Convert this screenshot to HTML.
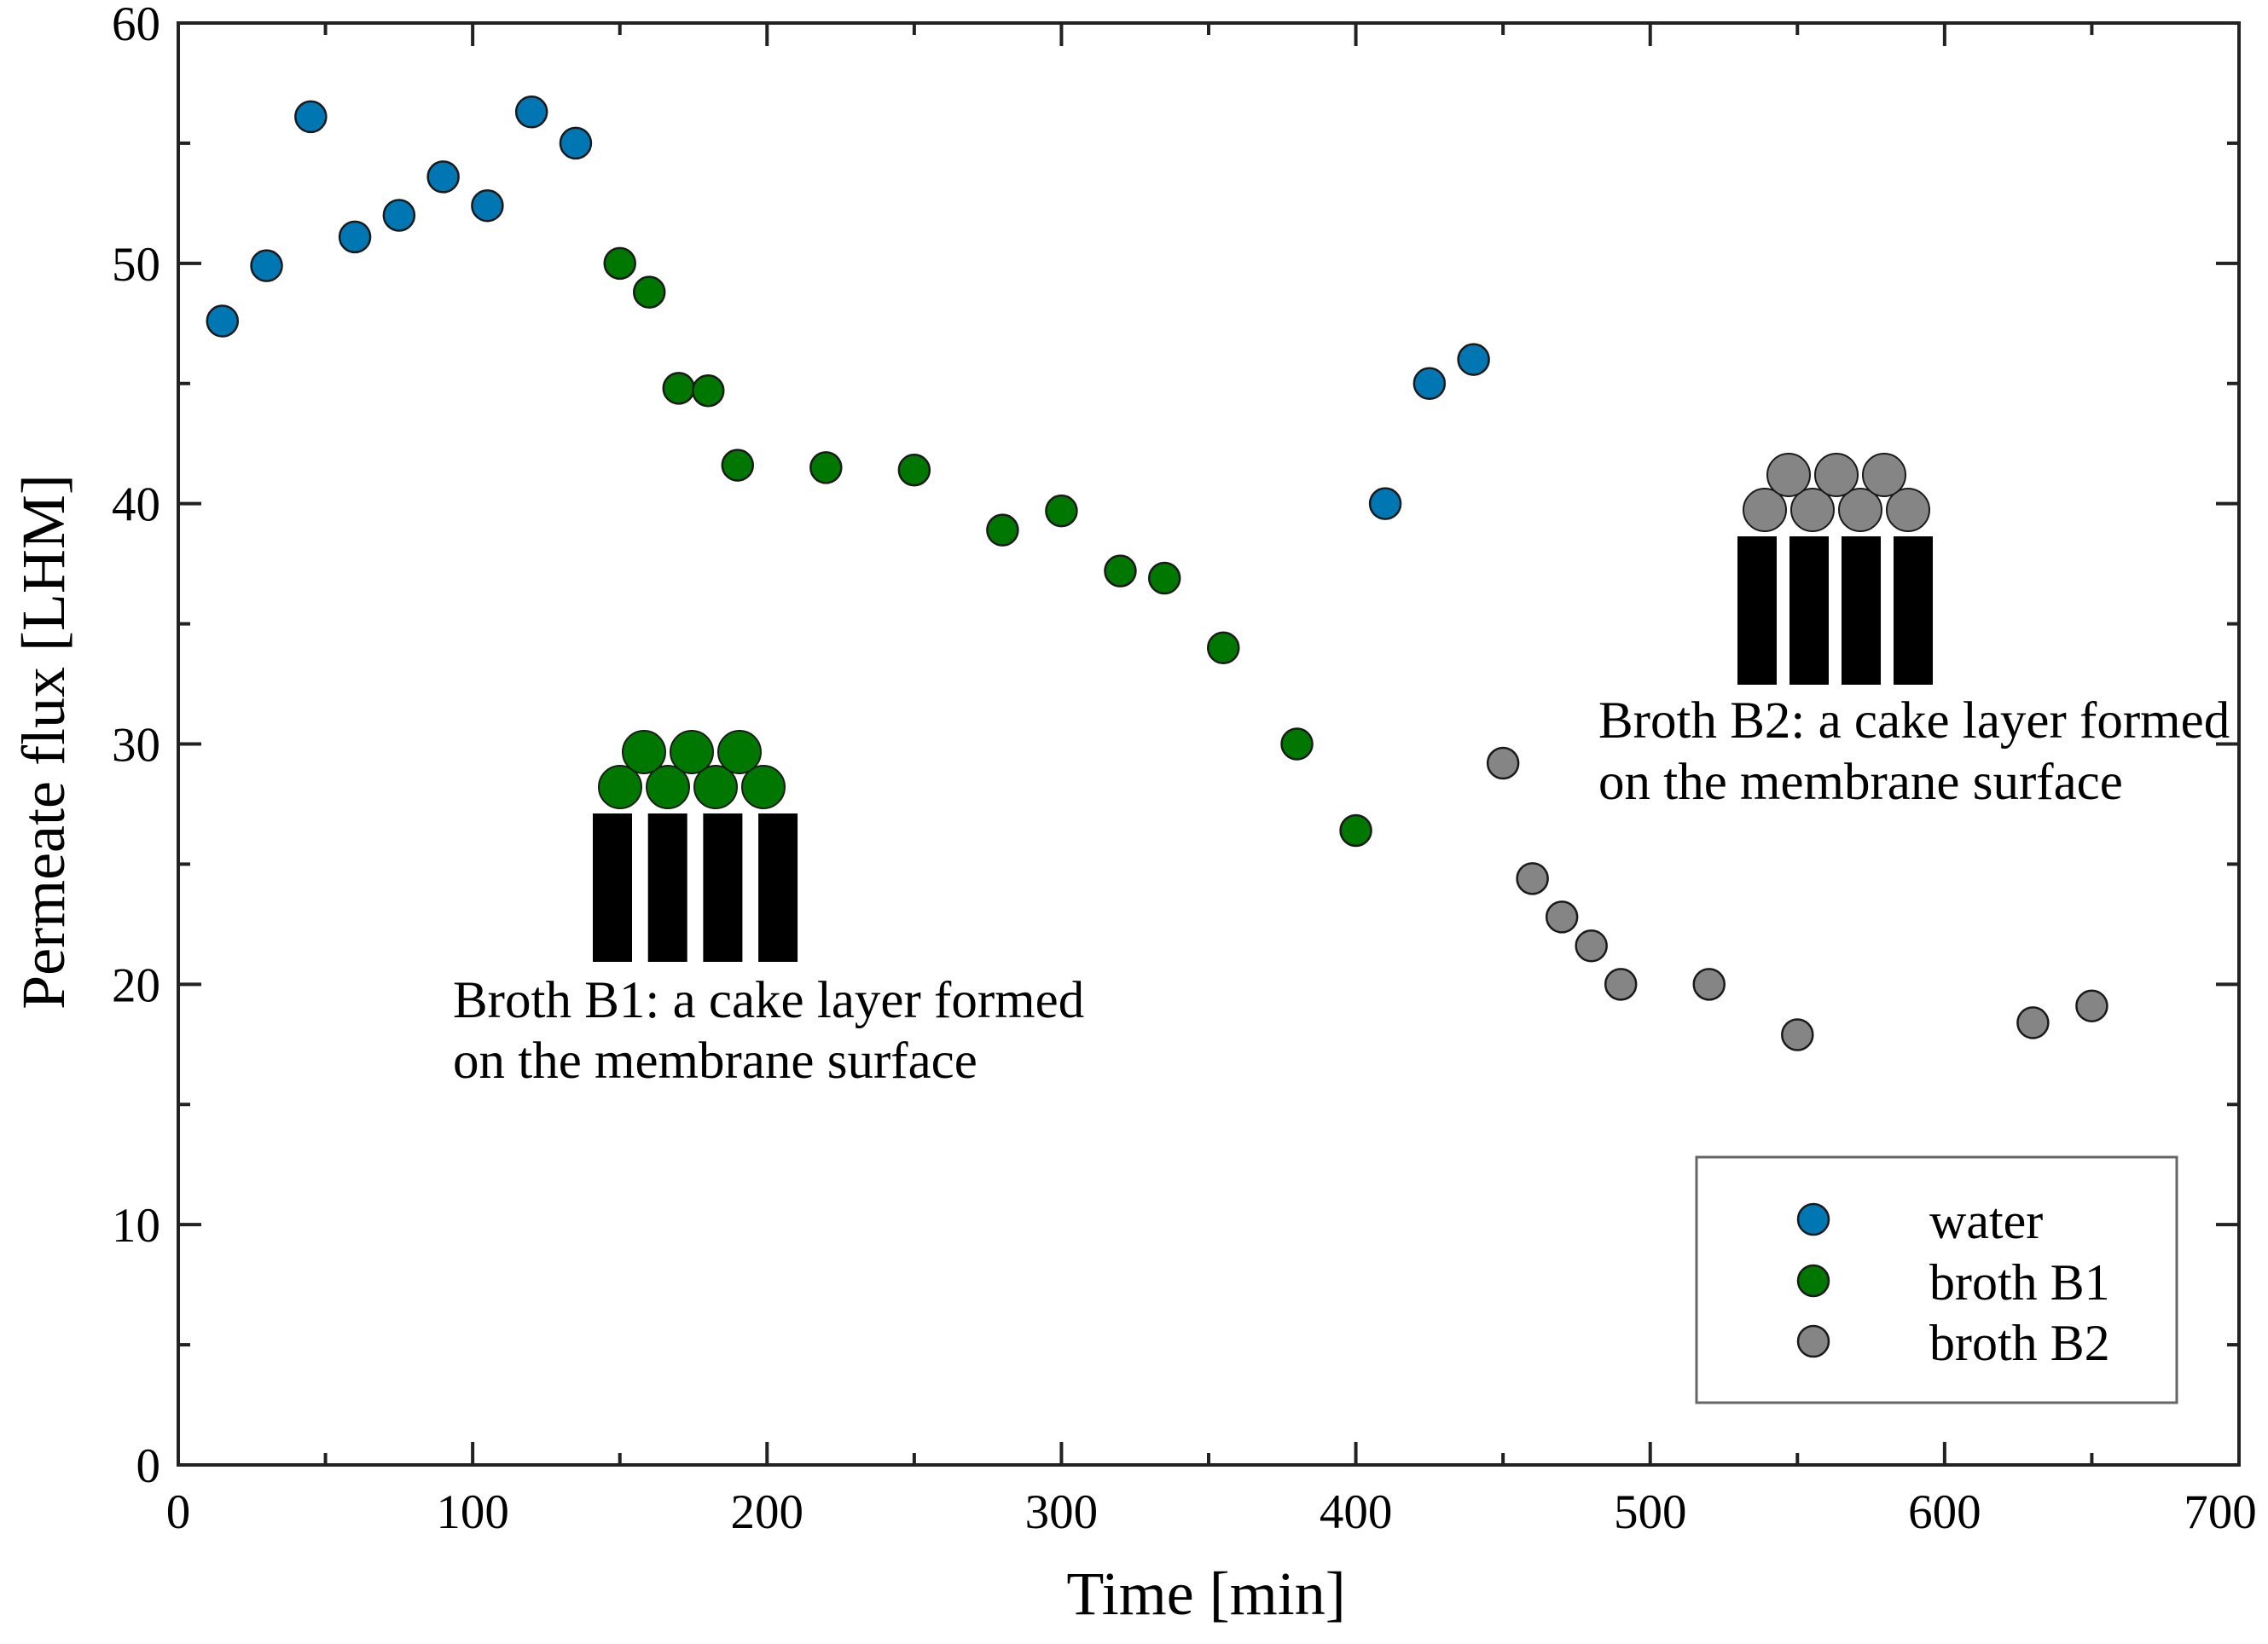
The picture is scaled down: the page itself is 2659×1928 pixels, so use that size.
<!DOCTYPE html>
<html><head><meta charset="utf-8"><style>
html,body{margin:0;padding:0;background:#fff}
svg text{font-family:"Liberation Serif",serif;fill:#000}
</style></head><body>
<svg id="chart" width="2659" height="1923" viewBox="0 0 2659 1923" xmlns="http://www.w3.org/2000/svg">
<rect width="2659" height="1923" fill="#fff"/>
<g id="marks"></g>
<g id="ill1"></g>
<g id="ill2"></g>
<text x="531" y="1193" font-size="61">Broth B1: a cake layer formed</text>
<text x="531" y="1264" font-size="61">on the membrane surface</text>
<text x="1874" y="865" font-size="61">Broth B2: a cake layer formed</text>
<text x="1874" y="937" font-size="61">on the membrane surface</text>
<rect x="1989" y="1357" width="563" height="288" fill="#fff" stroke="#666" stroke-width="3"/>
<g id="legend"></g>
<text x="1414" y="1893" font-size="72" text-anchor="middle">Time [min]</text>
<text transform="translate(75,870) rotate(-90)" font-size="72" text-anchor="middle">Permeate flux [LHM]</text>
</svg>
<script>
const waterX=[15,30,45,60,75,90,105,120,135,410,425,440];
const waterY=[47.6,49.9,56.1,51.1,52,53.6,52.4,56.3,55,40,45,46];
const b1X=[150,160,170,180,190,220,250,280,300,320,335,355,380,400];
const b1Y=[50,48.8,44.8,44.7,41.6,41.5,41.4,38.9,39.7,37.2,36.9,34,30,26.4];
const b2X=[450,460,470,480,490,520,550,630,650];
const b2Y=[29.2,24.4,22.8,21.6,20,20,17.9,18.4,19.1];
const xTicks=[0,100,200,300,400,500,600,700];
const yTicks=[0,10,20,30,40,50,60];
const seriesNames=["water","broth B1","broth B2"];
const NS="http://www.w3.org/2000/svg";
const L=209,R=2625,T=27,B=1718;
const sx=v=>L+(v-0)/(700-0)*(R-L);
const sy=v=>B-(v-0)/(60-0)*(B-T);
const svg=document.getElementById('chart');
const marks=document.getElementById('marks');
function mk(tag,attrs,parent){const e=document.createElementNS(NS,tag);for(const k in attrs)e.setAttribute(k,attrs[k]);(parent||svg).appendChild(e);return e;}
const fr=mk('rect',{x:L,y:T,width:R-L,height:B-T,fill:'none',stroke:'#222','stroke-width':4},marks);


for(let v=0;v<=700;v+=50){
  const x=sx(v),len=v%100===0?27:14;
  const t1=mk('line',{x1:x,y1:B,x2:x,y2:B-len,stroke:'#222','stroke-width':4},marks);
  
  
  const t2=mk('line',{x1:x,y1:T,x2:x,y2:T+len,stroke:'#222','stroke-width':4},marks);
  
  
}
for(let v=0;v<=60;v+=5){
  const y=sy(v),len=v%10===0?27:14;
  const t1=mk('line',{x1:L,y1:y,x2:L+len,y2:y,stroke:'#222','stroke-width':4},marks);
  
  
  const t2=mk('line',{x1:R,y1:y,x2:R-len,y2:y,stroke:'#222','stroke-width':4},marks);
  
  
}
xTicks.forEach(v=>{
  const t=mk('text',{x:Math.min(sx(v),2603),y:1792,'font-size':57,'text-anchor':'middle'},marks);
  t.textContent=v;
  
  
});
yTicks.forEach(v=>{
  const t=mk('text',{x:188,y:sy(v)+20,'font-size':57,'text-anchor':'end'},marks);
  t.textContent=v;
  
  
});
const colors=['#0077b3','#007700','#858585'];
[[waterX,waterY,'water-point'],[b1X,b1Y,'b1-point'],[b2X,b2Y,'b2-point']].forEach((s,i)=>{
  s[0].forEach((xv,j)=>{
    const c=mk('circle',{cx:sx(xv),cy:sy(s[1][j]),r:18,fill:colors[i],stroke:'#1a1a1a','stroke-width':2.5},marks);
    
    
  });
});
const lg=document.getElementById('legend');
const legY=[1430,1502,1573];
seriesNames.forEach((n,i)=>{
  const c=mk('circle',{cx:2126,cy:legY[i],r:18,fill:colors[i],stroke:'#1a1a1a','stroke-width':2.5},lg);
  
  
  const t=mk('text',{x:2262,y:legY[i]+22,'font-size':60},lg);
  t.textContent=n;
  
  
});
function cake(g,x0,top,col,sp,csp){
  for(let k=0;k<4;k++){
    const b=mk('rect',{x:x0+k*sp,y:top,width:46,height:174,fill:'#000'},g);
    
    
  }
  for(let k=0;k<4;k++){
    const c=mk('circle',{cx:x0+32+k*csp,cy:top-31,r:25,fill:col,stroke:'#1a1a1a','stroke-width':2},g);
    
    
  }
  for(let k=0;k<3;k++){
    const c=mk('circle',{cx:x0+32+csp/2+k*csp,cy:top-72,r:25,fill:col,stroke:'#1a1a1a','stroke-width':2},g);
    
    
  }
}
cake(document.getElementById('ill1'),695,954,'#007700',64.7,56);
cake(document.getElementById('ill2'),2037,629,'#858585',61,56);
</script>
</body></html>
